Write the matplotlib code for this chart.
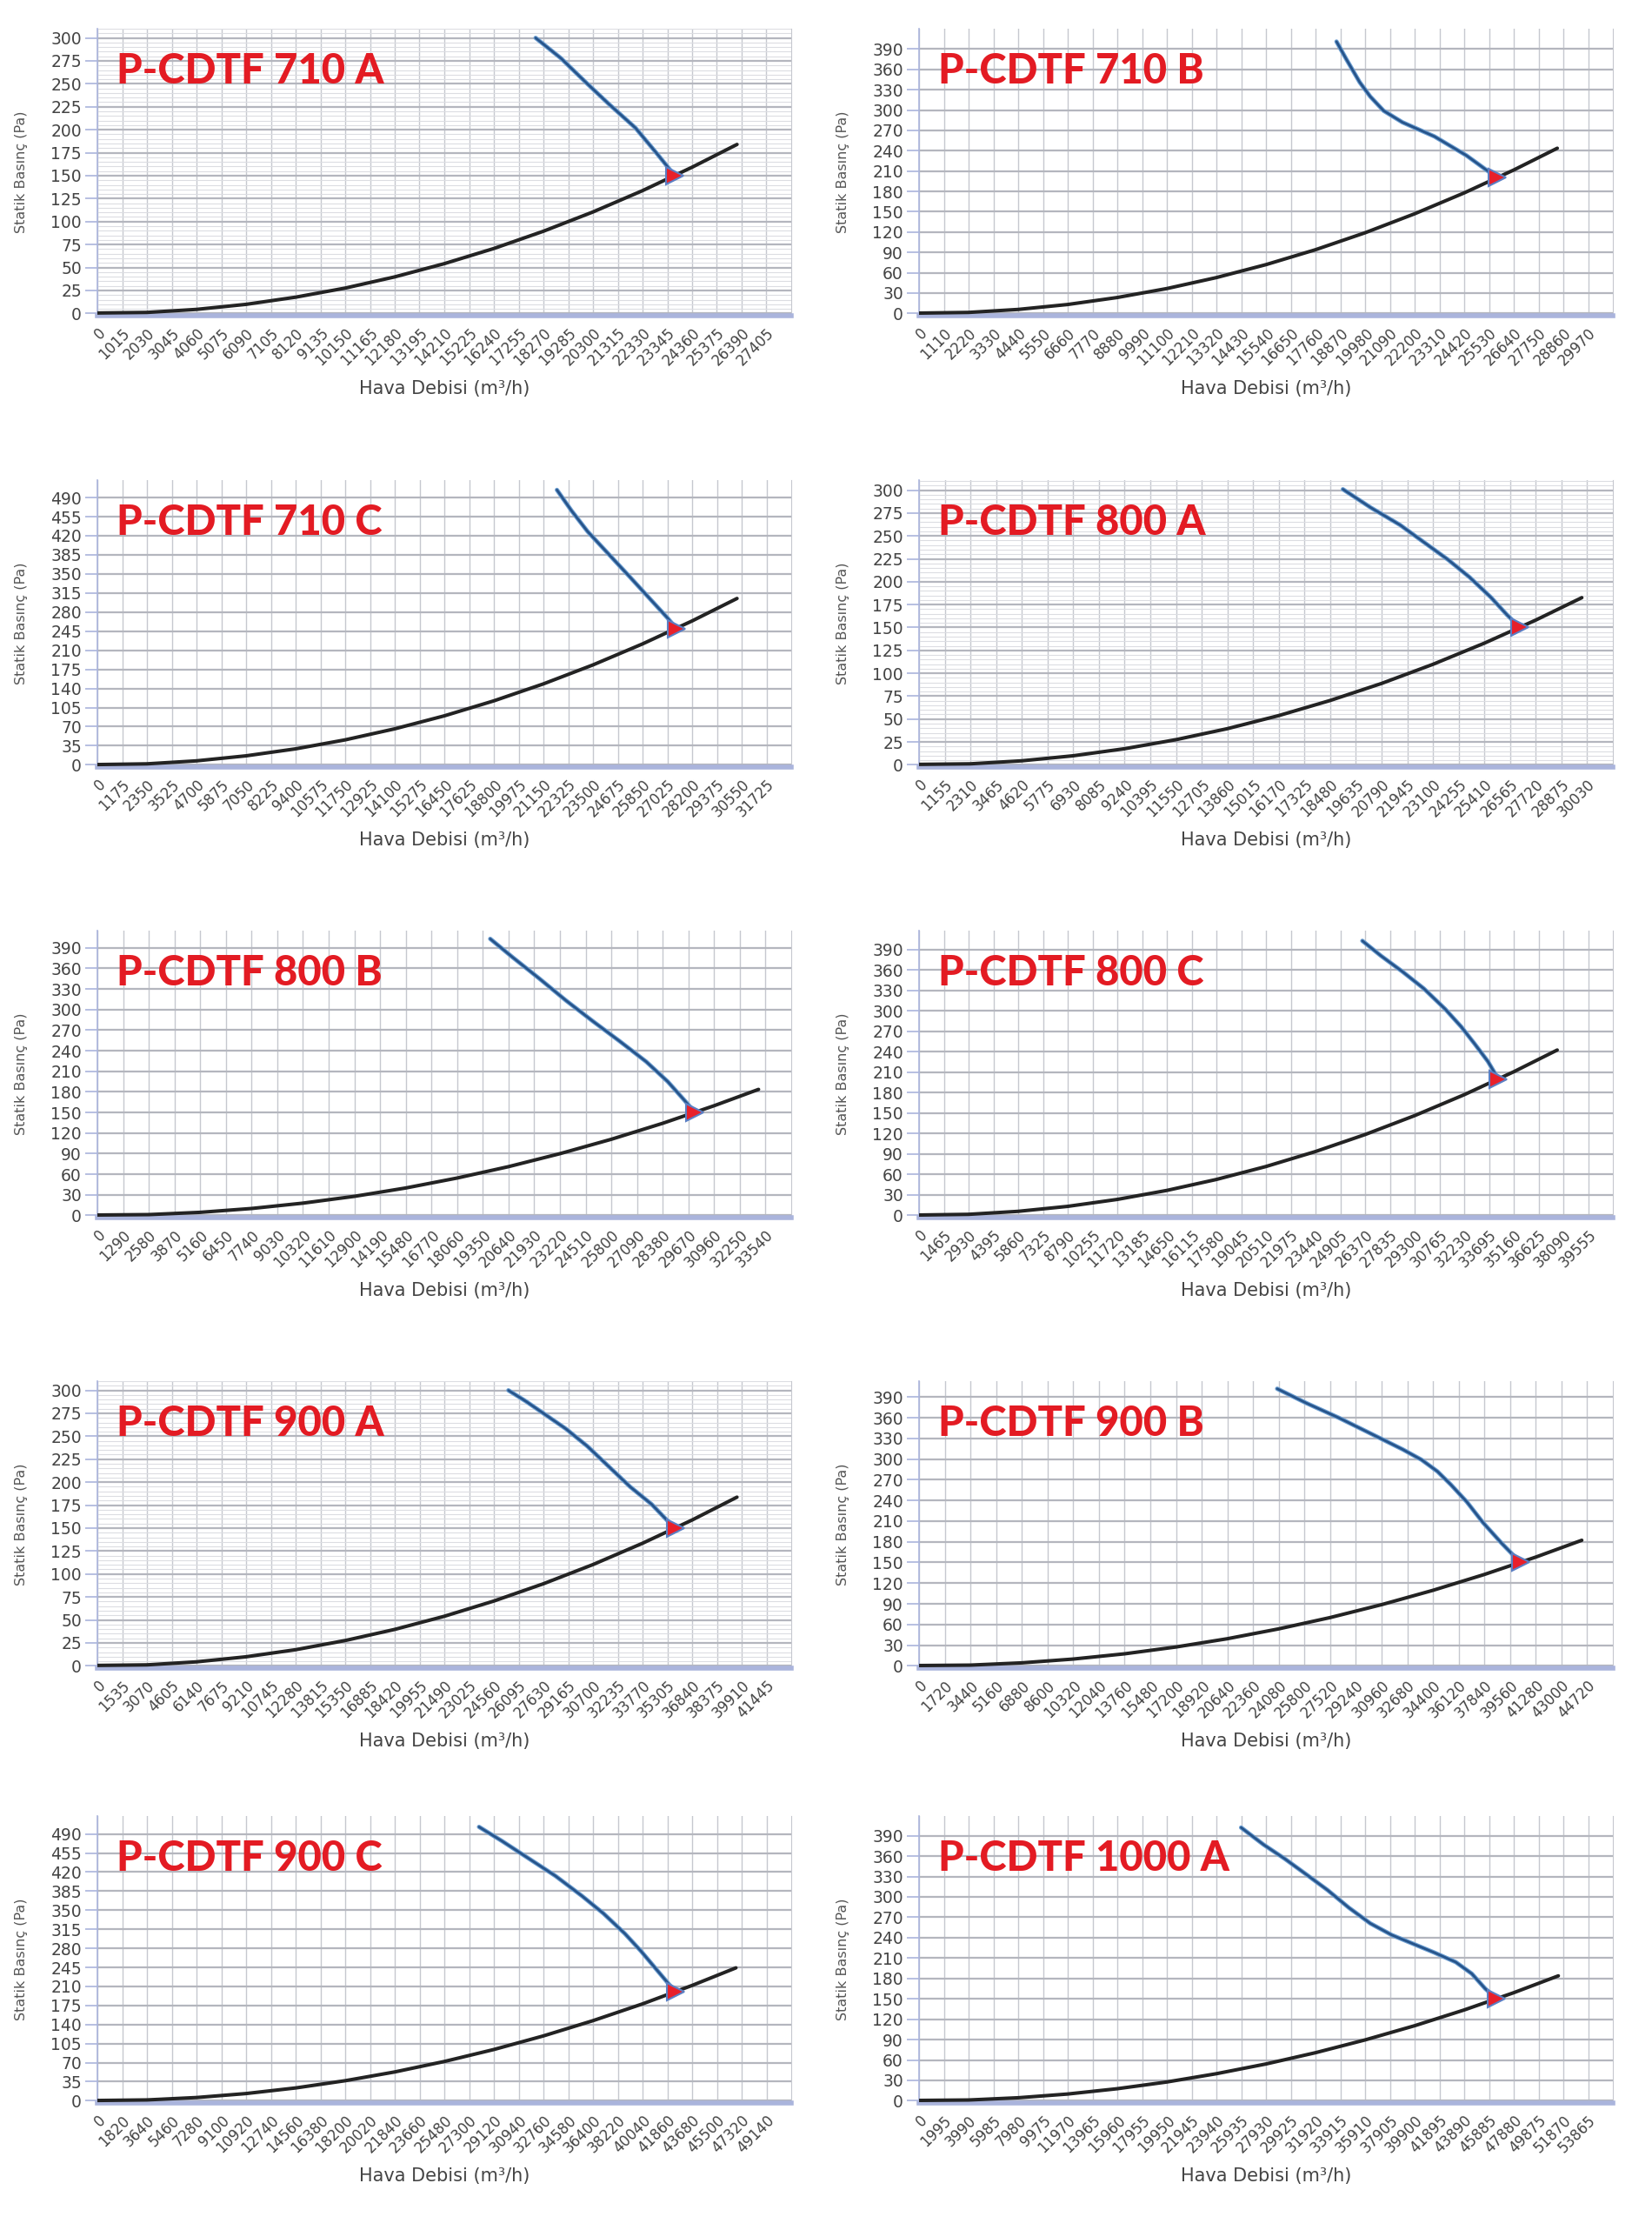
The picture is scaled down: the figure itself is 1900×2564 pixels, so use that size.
import numpy as np
import matplotlib.pyplot as plt
from matplotlib.ticker import MultipleLocator

# fonts: condensed sans for the axis texts, heavy sans for the model names
plt.rcParams['font.family'] = ['Liberation Sans Narrow', 'DejaVu Sans']

models = ["P-CDTF 710 A", "P-CDTF 710 B", "P-CDTF 710 C", "P-CDTF 800 A",
          "P-CDTF 800 B", "P-CDTF 800 C", "P-CDTF 900 A", "P-CDTF 900 B",
          "P-CDTF 900 C", "P-CDTF 1000 A"]

# x tick step (m3/h) and number of tick intervals per chart
x_steps = [1015, 1110, 1175, 1155, 1290, 1465, 1535, 1720, 1820, 1995]
x_counts = [27, 27, 27, 26, 26, 27, 27, 26, 27, 27]
# y tick step and last labelled y tick (Pa)
y_steps = [25, 30, 35, 25, 30, 30, 25, 30, 35, 30]
y_maxes = [300, 390, 490, 300, 390, 390, 300, 390, 490, 390]

# fan curves (blue)
fan_710a_x = [17950, 18980, 20070, 20950, 22040, 22920, 23650]
fan_710a_y = [300, 278, 250, 228, 202, 174, 150]
fan_710b_x = [18700, 19140, 19740, 20210, 20810, 21650, 23090, 24520, 25900]
fan_710b_y = [401, 375, 341, 320, 299, 282, 261, 233, 200]
fan_710c_x = [21790, 22480, 23240, 24250, 25260, 26280, 27040, 27450]
fan_710c_y = [504, 466, 428, 386, 344, 301, 269, 250]
fan_800a_x = [19050, 20300, 21620, 22700, 23780, 24740, 25700, 26420, 27000]
fan_800a_y = [301, 281, 262, 243, 224, 205, 183, 164, 150]
fan_800b_x = [19720, 20850, 22190, 23530, 24870, 26210, 27550, 28630, 29430, 30000]
fan_800b_y = [403, 376, 345, 313, 283, 254, 224, 195, 169, 150]
fan_800c_x = [26210, 27310, 28570, 29840, 31100, 32050, 32840, 33630, 34250]
fan_800c_y = [403, 381, 358, 333, 303, 277, 252, 226, 200]
fan_900a_x = [25460, 26550, 27710, 29030, 30360, 31680, 33000, 34330, 35480, 35800]
fan_900a_y = [300, 288, 274, 258, 239, 217, 195, 176, 155, 150]
fan_900b_x = [23970, 25940, 28080, 30230, 32370, 33630, 34700, 35590, 36660,
              37740, 38990, 40250]
fan_900b_y = [402, 381, 360, 337, 314, 299, 282, 263, 238, 208, 178, 150]
fan_900c_x = [28030, 29720, 31680, 33640, 35600, 37170, 38740, 39920, 41100,
              42080, 42450]
fan_900c_y = [503, 477, 445, 413, 376, 344, 307, 275, 240, 211, 200]
fan_1000a_x = [25930, 27730, 29450, 31180, 32890, 34610, 36330, 38050, 39770,
               41490, 43210, 44500, 45580, 46310, 46500]
fan_1000a_y = [402, 377, 356, 333, 310, 284, 261, 244, 231, 218, 204, 187,
               165, 153, 150]

# system curves (black)
sys_710a_x = [0, 2030, 4060, 6090, 8120, 10150, 12180, 14210, 16240, 18270, 20300, 22330, 24360, 26200]
sys_710a_y = [0.5, 1.1, 4.4, 9.9, 17.7, 27.6, 39.8, 54.2, 70.7, 89.5, 110.5, 133.7, 159.2, 184]
sys_710b_x = [0, 2220, 4440, 6660, 8880, 11100, 13320, 15540, 17760, 19980, 22200, 24420, 26640, 28590]
sys_710b_y = [0.5, 1.5, 5.9, 13.2, 23.5, 36.7, 52.9, 72, 94, 119, 147, 177.8, 211.6, 243.7]
sys_710c_x = [0, 2350, 4700, 7050, 9400, 11750, 14100, 16450, 18800, 21150, 23500, 25850, 28200, 30330]
sys_710c_y = [0.5, 1.8, 7.3, 16.5, 29.3, 45.8, 66, 89.8, 117.3, 148.4, 183.2, 221.7, 263.8, 305]
sys_800a_x = [0, 2310, 4620, 6930, 9240, 11550, 13860, 16170, 18480, 20790, 23100, 25410, 27720, 29790]
sys_800a_y = [0.5, 1.1, 4.4, 9.9, 17.6, 27.5, 39.5, 53.8, 70.3, 88.9, 109.8, 132.9, 158.1, 182.6]
sys_800b_x = [0, 2580, 5160, 7740, 10320, 12900, 15480, 18060, 20640, 23220, 25800, 28380, 30960, 33190]
sys_800b_y = [0.5, 1.1, 4.4, 10, 17.8, 27.7, 39.9, 54.4, 71, 89.9, 110.9, 134.2, 159.8, 183.6]
sys_800c_x = [0, 2930, 5860, 8790, 11720, 14650, 17580, 20510, 23440, 26370, 29300, 32230, 35160, 37730]
sys_800c_y = [0.5, 1.5, 5.9, 13.2, 23.4, 36.6, 52.7, 71.7, 93.7, 118.6, 146.4, 177.1, 210.8, 242.7]
sys_900a_x = [0, 3070, 6140, 9210, 12280, 15350, 18420, 21490, 24560, 27630, 30700, 33770, 36840, 39620]
sys_900a_y = [0.5, 1.1, 4.4, 9.9, 17.6, 27.6, 39.7, 54, 70.6, 89.4, 110.3, 133.5, 158.8, 183.7]
sys_900b_x = [0, 3440, 6880, 10320, 13760, 17200, 20640, 24080, 27520, 30960, 34400, 37840, 41280, 44360]
sys_900b_y = [0.5, 1.1, 4.4, 9.9, 17.5, 27.4, 39.4, 53.7, 70.1, 88.8, 109.6, 132.6, 157.8, 182.2]
sys_900c_x = [0, 3640, 7280, 10920, 14560, 18200, 21840, 25480, 29120, 32760, 36400, 40040, 43680, 46900]
sys_900c_y = [0.5, 1.5, 5.9, 13.2, 23.5, 36.8, 52.9, 72.1, 94.1, 119.1, 147.1, 177.9, 211.8, 244.1]
sys_1000a_x = [0, 3990, 7980, 11970, 15960, 19950, 23940, 27930, 31920, 35910, 39900, 43890, 47880, 51470]
sys_1000a_y = [0.5, 1.1, 4.4, 9.9, 17.7, 27.6, 39.8, 54.1, 70.7, 89.5, 110.4, 133.6, 159, 183.8]

# operating points (red marker)
op_x = [23650, 25900, 27450, 27000, 30000, 34250, 35800, 40250, 42450, 46500]
op_y = [150, 200, 250, 150, 150, 200, 150, 150, 200, 150]

fan_x = [fan_710a_x, fan_710b_x, fan_710c_x, fan_800a_x, fan_800b_x,
         fan_800c_x, fan_900a_x, fan_900b_x, fan_900c_x, fan_1000a_x]
fan_y = [fan_710a_y, fan_710b_y, fan_710c_y, fan_800a_y, fan_800b_y,
         fan_800c_y, fan_900a_y, fan_900b_y, fan_900c_y, fan_1000a_y]
sys_x = [sys_710a_x, sys_710b_x, sys_710c_x, sys_800a_x, sys_800b_x,
         sys_800c_x, sys_900a_x, sys_900b_x, sys_900c_x, sys_1000a_x]
sys_y = [sys_710a_y, sys_710b_y, sys_710c_y, sys_800a_y, sys_800b_y,
         sys_800c_y, sys_900a_y, sys_900b_y, sys_900c_y, sys_1000a_y]

# ---- layout (pixels of the 1900x2564 sheet) ----
W, H = 1900, 2564
col_left = [112, 1057]
row_top = [33, 552, 1070, 1588, 2088]
ax_w, ax_h = 798, 330
y_tops = [310, 420, 522, 311, 415, 418, 310, 413, 523, 419]

LAV = '#aab4dc'
GRID = '#c6c8cf'
TXT = '#444444'


def draw_chart(ax, i):
    """Draw one fan / system curve chart."""
    step, n = x_steps[i], x_counts[i]
    ticks = np.arange(n + 1) * step
    ax.set_xlim(0, (n + 1) * step)
    ax.set_ylim(-0.008 * y_tops[i], y_tops[i])
    ax.set_xticks(ticks)
    ax.set_xticklabels([str(t) for t in ticks], rotation=45, ha='right',
                       va='top', rotation_mode='anchor', fontsize=12, color=TXT)
    ax.set_yticks(np.arange(0, y_maxes[i] + 1, y_steps[i]))
    ax.tick_params(axis='y', length=10, width=1.2, color=LAV, labelsize=13.5,
                   labelcolor=TXT, pad=3)
    ax.tick_params(axis='x', length=0, pad=8)

    # grid
    ax.grid(axis='x', color=GRID, lw=1.0)
    ax.grid(axis='y', which='major', color='#b4b6be', lw=1.6)
    if y_steps[i] == 25:
        ax.yaxis.set_minor_locator(MultipleLocator(5))
        ax.grid(axis='y', which='minor', color='#dcdde2', lw=0.8)
        ax.tick_params(which='minor', length=0)
    ax.set_axisbelow(True)

    ax.spines['top'].set_visible(False)
    ax.spines['right'].set_color(GRID)
    ax.spines['left'].set_color(LAV)
    ax.spines['left'].set_linewidth(1.2)
    ax.spines['bottom'].set_color(LAV)
    ax.spines['bottom'].set_linewidth(4)

    # curves
    ax.plot(sys_x[i], sys_y[i], color='#232323', lw=2.9,
            solid_capstyle='round', zorder=3)
    ax.plot(fan_x[i], fan_y[i], color='#6d9fd2', lw=3.6,
            solid_capstyle='round', zorder=4)
    ax.plot(fan_x[i], fan_y[i], color='#27548a', lw=2.0,
            solid_capstyle='round', zorder=5)
    ax.plot(op_x[i], op_y[i], marker='>', ms=15, mfc='#e8202a',
            mec='#5b7fc4', mew=1.5, zorder=6)

    # texts
    ax.set_xlabel("Hava Debisi (m³/h)", fontsize=15, color=TXT)
    ax.xaxis.set_label_coords(0.5, -0.225)
    ax.set_ylabel("Statik Basınç (Pa)", fontsize=11.5, color='#555555',
                  family='DejaVu Sans')
    ax.yaxis.set_label_coords(-0.1, 0.5)
    ax.text(0.028, 0.81, models[i], transform=ax.transAxes, color='#e31b23',
            fontsize=34, fontweight='black', family=['Lato', 'DejaVu Sans'],
            va='baseline', zorder=7)


fig = plt.figure(figsize=(W / 100, H / 100), dpi=100)
for i in range(len(models)):
    r, c = divmod(i, 2)
    left = col_left[c] / W
    bottom = (H - row_top[r] - ax_h) / H
    ax = fig.add_axes([left, bottom, ax_w / W, ax_h / H])
    draw_chart(ax, i)

fig.savefig('out.png', dpi=100, facecolor='white')
